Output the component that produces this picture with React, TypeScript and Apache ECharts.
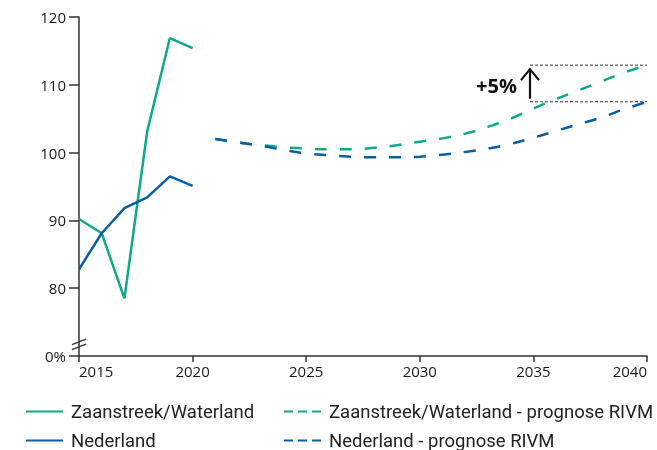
import React, { useEffect, useRef } from 'react';
import * as echarts from 'echarts';

const actualYears = [2015, 2016, 2017, 2018, 2019, 2020];
const zaanActual = [90.2, 88.1, 78.5, 103.1, 116.9, 115.4];
const nlActual = [82.8, 88.1, 91.8, 93.4, 96.5, 95.1];

const forecastYears = [2021, 2022, 2023, 2024, 2025, 2026, 2027, 2028, 2029, 2030, 2031, 2032, 2033, 2034, 2035, 2036, 2037, 2038, 2039, 2040];
const zaanForecast = [102.0, 101.5, 101.1, 100.8, 100.6, 100.5, 100.5, 100.7, 101.1, 101.6, 102.1, 102.8, 103.8, 105.0, 106.5, 107.9, 109.2, 110.5, 111.8, 112.9];
const nlForecast = [102.0, 101.5, 101.0, 100.4, 99.9, 99.6, 99.4, 99.3, 99.3, 99.4, 99.7, 100.1, 100.6, 101.3, 102.2, 103.2, 104.2, 105.2, 106.4, 107.5];

const xTicks = [2015, 2020, 2025, 2030, 2035, 2040];
const yMin = 70;
const yMax = 120;
const annotationLabel = '+5%';
const annotationYear = 2034.85;

const names = {
  zaan: 'Zaanstreek/Waterland',
  zaanF: 'Zaanstreek/Waterland - prognose RIVM',
  nl: 'Nederland',
  nlF: 'Nederland - prognose RIVM',
};

const GREEN = '#0FA98A';
const BLUE = '#0B5EA6';
const FONT = "'Open Sans', sans-serif";
const LEGEND_FONT = "Roboto, sans-serif";

const zip = (xs: number[], ys: number[]) => xs.map((x, i) => [x, ys[i]]);

export default function App() {
  const ref = useRef<HTMLDivElement>(null);
  useEffect(() => {
    const chart = echarts.init(ref.current!, null, { renderer: 'svg' });
    const dash = [12, 13];
    const legendCommon = {
      top: 402,
      padding: 0,
      orient: 'vertical',
      itemGap: 10,
      itemWidth: 37,
      itemHeight: 18,
      itemStyle: { opacity: 0 },
      textStyle: { fontSize: 18.5, color: '#222', fontFamily: LEGEND_FONT, padding: [0, 0, 0, 3] },
    };
    chart.setOption({
      animation: false,
      textStyle: { fontFamily: FONT },
      grid: { left: 79, right: 10, top: 17, bottom: 94, outerBoundsMode: 'none', containLabel: false },
      xAxis: {
        type: 'value',
        min: xTicks[0],
        max: xTicks[xTicks.length - 1],
        interval: 5,
        axisLine: { lineStyle: { color: '#333', width: 1.5 } },
        axisTick: { show: true, length: 6, lineStyle: { color: '#333', width: 1.5 } },
        axisLabel: {
          color: '#1a1a1a',
          fontSize: 15,
          margin: 7,
          fontFamily: FONT,
          alignMinLabel: 'left',
          alignMaxLabel: 'right',
          formatter: (v: number) => String(v),
        },
        splitLine: { show: false },
      },
      yAxis: {
        type: 'value',
        min: yMin,
        max: yMax,
        interval: 10,
        axisLine: { show: true, lineStyle: { color: '#333', width: 1.5 } },
        axisTick: { show: true, length: 10, lineStyle: { color: '#333', width: 1.5 } },
        axisLabel: {
          color: '#1a1a1a',
          fontSize: 15,
          margin: 13,
          fontFamily: FONT,
          formatter: (v: number) => (v === yMin ? '0%' : String(v)),
        },
        splitLine: { show: false },
      },
      legend: [
        { ...legendCommon, left: 25, data: [names.zaan, names.nl] },
        {
          ...legendCommon,
          left: 283,
          data: [
            { name: names.zaanF, lineStyle: { type: [9, 5] } },
            { name: names.nlF, lineStyle: { type: [9, 5] } },
          ],
        },
      ],
      series: [
        {
          name: names.zaan,
          type: 'line',
          symbol: 'none',
          data: zip(actualYears, zaanActual),
          lineStyle: { color: GREEN, width: 2.5 },
          itemStyle: { color: GREEN },
        },
        {
          name: names.nl,
          type: 'line',
          symbol: 'none',
          data: zip(actualYears, nlActual),
          lineStyle: { color: BLUE, width: 2.5 },
          itemStyle: { color: BLUE },
        },
        {
          name: names.zaanF,
          type: 'line',
          symbol: 'none',
          smooth: true,
          data: zip(forecastYears, zaanForecast),
          lineStyle: { color: GREEN, width: 2.5, type: dash },
          itemStyle: { color: GREEN },
        },
        {
          name: names.nlF,
          type: 'line',
          symbol: 'none',
          smooth: true,
          data: zip(forecastYears, nlForecast),
          lineStyle: { color: BLUE, width: 2.5, type: dash },
          itemStyle: { color: BLUE },
        },
      ],
    });

    const p = (x: number, y: number) => chart.convertToPixel({ gridIndex: 0 }, [x, y]) as number[];
    const lastYear = forecastYears[forecastYears.length - 1];
    const topVal = zaanForecast[zaanForecast.length - 1];
    const lowVal = nlForecast[nlForecast.length - 1];
    const a1 = p(annotationYear, topVal);
    const a2 = p(lastYear, topVal);
    const b1 = p(annotationYear, lowVal);
    const b2 = p(lastYear, lowVal);
    const ax = a1[0];
    const tipY = a1[1] + 4;
    const baseY = b1[1] - 3;
    const mid = p(annotationYear, (topVal + lowVal) / 2);
    const brk = p(xTicks[0], yMin + 1.6);
    const bx = brk[0];
    const by = brk[1];

    chart.setOption({
      graphic: [
        {
          type: 'line',
          shape: { x1: a1[0], y1: a1[1], x2: a2[0], y2: a2[1] },
          style: { stroke: '#333', lineWidth: 1, lineDash: [3, 2] },
        },
        {
          type: 'line',
          shape: { x1: b1[0], y1: b1[1], x2: b2[0], y2: b2[1] },
          style: { stroke: '#333', lineWidth: 1, lineDash: [3, 2] },
        },
        {
          type: 'line',
          shape: { x1: ax, y1: baseY, x2: ax, y2: tipY },
          style: { stroke: '#111', lineWidth: 2.2 },
        },
        {
          type: 'polyline',
          shape: { points: [[ax - 9, tipY + 11], [ax, tipY], [ax + 9, tipY + 11]] },
          style: { stroke: '#111', lineWidth: 2.2, fill: 'none' },
        },
        {
          type: 'text',
          x: ax - 13,
          y: mid[1] + 2,
          style: {
            text: annotationLabel,
            fontSize: 20,
            fontWeight: 'bold',
            fontFamily: FONT,
            fill: '#111',
            align: 'right',
            verticalAlign: 'middle',
          },
        },
        {
          type: 'polygon',
          shape: { points: [[bx - 3, by + 2], [bx + 3, by], [bx + 3, by - 5], [bx - 3, by - 3]] },
          style: { fill: '#fff' },
        },
        {
          type: 'line',
          shape: { x1: bx - 7, y1: by + 4.5, x2: bx + 7, y2: by - 1 },
          style: { stroke: '#333', lineWidth: 1.3 },
        },
        {
          type: 'line',
          shape: { x1: bx - 7, y1: by - 0.5, x2: bx + 7, y2: by - 6 },
          style: { stroke: '#333', lineWidth: 1.3 },
        },
      ],
    });
    return () => chart.dispose();
  }, []);
  return <div ref={ref} style={{ position: 'fixed', left: 0, top: 0, width: 657, height: 450 }} />;
}
